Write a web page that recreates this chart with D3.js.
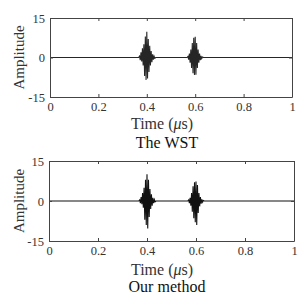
<!DOCTYPE html>
<html><head><meta charset="utf-8">
<script src="https://cdn.jsdelivr.net/npm/d3@7"></script>
<style>body{margin:0;background:#fff}svg{display:block}</style>
</head><body>
<svg id="c" width="300" height="300"></svg>
<script>
const xTicks = [0, 0.2, 0.4, 0.6, 0.8, 1];
const xTickLabels = ["0", "0.2", "0.4", "0.6", "0.8", "1"];
const yTicks = [-15, 0, 15];
const yTickLabels = ["-15", "0", "15"];
const titles = ["The WST", "Our method"];

// extrema of burst signals (time in µs, amplitude)
const wstTime = [0, 0.366, 0.370, 0.373, 0.376, 0.379, 0.382, 0.385, 0.388, 0.391, 0.394, 0.397, 0.400, 0.403, 0.406, 0.409, 0.412, 0.415, 0.418, 0.421, 0.424, 0.427, 0.430, 0.433, 0.437,
  0.566, 0.570, 0.573, 0.576, 0.579, 0.582, 0.585, 0.588, 0.591, 0.594, 0.597, 0.600, 0.603, 0.606, 0.609, 0.612, 0.615, 0.618, 0.621, 0.624, 0.627, 0.630, 0.634, 1];
const wstAmp = [0, 0, 0.5, -1, 2, -1.5, 3.5, -3, 5, -7, 8, -8.5, 9.8, -8, 7, -5.5, 4.5, -3, 2.5, -1.8, 1.2, -0.8, 0.5, -0.3, 0,
  0, 0.4, -0.8, 1.5, -2, 3, -4, 5.5, -6, 7.5, -6.6, 7.9, -6.5, 5.5, -4, 3, -2, 1.5, -1, 0.6, -0.4, 0.2, 0, 0];

const oursTime = [0, 0.366, 0.370, 0.373, 0.376, 0.379, 0.382, 0.385, 0.388, 0.391, 0.394, 0.397, 0.400, 0.403, 0.406, 0.409, 0.412, 0.415, 0.418, 0.421, 0.424, 0.427, 0.430, 0.433, 0.437,
  0.566, 0.570, 0.573, 0.576, 0.579, 0.582, 0.585, 0.588, 0.591, 0.594, 0.597, 0.600, 0.603, 0.606, 0.609, 0.612, 0.615, 0.618, 0.621, 0.624, 0.627, 0.630, 0.634, 1];
const oursAmp = [0, 0, 0.4, -0.8, 1.5, -1.2, 3, -2.5, 5, -7, 8, -9, 10, -10.3, 8, -6, 4.5, -3, 2.5, -1.8, 1.2, -0.8, 0.5, -0.3, 0,
  0, 0.4, -0.8, 1.2, -1.8, 3, -4, 5.5, -6.5, 7, -8, 7.3, -9, 6, -4.5, 3, -2, 1.5, -1, 0.6, -0.4, 0.2, 0, 0];

const panels = [
  {time: wstTime, amp: wstAmp, left: 50, right: 292, top: 18, bottom: 97, title: titles[0], lineColor: "#262626", lw: 1.1, xlOff: 32},
  {time: oursTime, amp: oursAmp, left: 49, right: 294, top: 161, bottom: 241, title: titles[1], lineColor: "#111", lw: 1.1, xlOff: 34}
];

const svg = d3.select("#c");
const font = "'Liberation Serif','Times New Roman',serif";

panels.forEach(p => {
  const x = d3.scaleLinear().domain([0, 1]).range([p.left, p.right]);
  const y = d3.scaleLinear().domain([-15, 15]).range([p.bottom, p.top]);
  const g = svg.append("g");

  // signal
  const data = p.time.map((t, i) => [t, p.amp[i]]);
  g.append("path").datum(data)
    .attr("d", d3.line().x(d => x(d[0])).y(d => y(d[1])))
    .attr("fill", "none").attr("stroke", p.lineColor).attr("stroke-width", p.lw);

  // axes (inner ticks, MATLAB style)
  const axB = d3.axisBottom(x).tickValues(xTicks).tickFormat((d, i) => xTickLabels[i]).tickSizeInner(-3).tickSizeOuter(0).tickPadding(5);
  const axT = d3.axisTop(x).tickValues(xTicks).tickFormat("").tickSizeInner(-3).tickSizeOuter(0);
  const axL = d3.axisLeft(y).tickValues(yTicks).tickFormat((d, i) => yTickLabels[i]).tickSizeInner(-3).tickSizeOuter(0).tickPadding(5);
  const axR = d3.axisRight(y).tickValues(yTicks).tickFormat("").tickSizeInner(-3).tickSizeOuter(0);

  [[axB, `translate(0,${p.bottom})`], [axT, `translate(0,${p.top})`], [axL, `translate(${p.left},0)`], [axR, `translate(${p.right},0)`]]
    .forEach(([ax, tr]) => {
      const a = g.append("g").attr("transform", tr).call(ax);
      a.select(".domain").attr("stroke", "#444").attr("stroke-width", 1);
      a.selectAll(".tick line").attr("stroke", "#444");
      a.selectAll("text").attr("font-family", font).attr("font-size", 12.5).attr("fill", "#333");
    });

  // y label
  g.append("text")
    .attr("transform", `translate(24,${(p.top + p.bottom) / 2}) rotate(-90)`)
    .attr("text-anchor", "middle").attr("font-family", font).attr("font-size", 15).attr("fill", "#333")
    .text("Amplitude");

  // x label
  const xl = g.append("text")
    .attr("x", 162).attr("y", p.bottom + p.xlOff)
    .attr("text-anchor", "middle").attr("font-family", font).attr("font-size", 16).attr("fill", "#333");
  xl.append("tspan").text("Time (");
  xl.append("tspan").attr("font-style", "italic").text("\u03bc");
  xl.append("tspan").text("s)");

  // subtitle
  g.append("text")
    .attr("x", 167).attr("y", p.bottom + 51)
    .attr("text-anchor", "middle").attr("font-family", font).attr("font-size", 16).attr("fill", "#111")
    .text(p.title);
});
</script>
</body></html>
